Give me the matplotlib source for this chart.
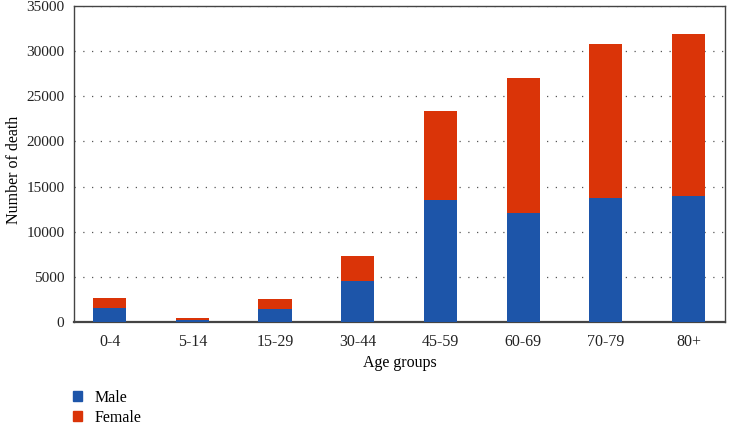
import numpy as np
import matplotlib.pyplot as plt
from matplotlib.patches import Patch

# Deaths by age group and sex
age_groups = ['0-4', '5-14', '15-29', '30-44', '45-59', '60-69', '70-79', '80+']
male = [1550, 200, 1400, 4500, 13550, 12100, 13700, 14000]
female = [1100, 250, 1200, 2780, 9850, 14900, 17100, 17900]

blue = '#1d55a9'
red = '#da3408'

plt.rcParams['font.family'] = ['Liberation Serif', 'DejaVu Serif']

fig = plt.figure(figsize=(7.3, 4.28), dpi=100)
ax = fig.add_axes([0.1014, 0.2477, 0.8916, 0.7383])

x = np.arange(len(age_groups))
ax.bar(x, male, width=0.4, color=blue, zorder=3)
ax.bar(x, female, width=0.4, bottom=male, color=red, zorder=3)

ax.set_xlim(-0.43, len(age_groups) - 1 + 0.44)
ax.set_ylim(0, 35000)
ax.set_yticks(np.arange(0, 35001, 5000))
ax.set_xticks(x)
ax.set_xticklabels(age_groups)
ax.tick_params(axis='both', length=0, labelsize=11, colors='#222222', pad=7)
ax.tick_params(axis='x', labelsize=11.5, pad=9)

ax.yaxis.grid(True, linestyle=(0, (1, 6)), color='#555555', linewidth=0.9, zorder=0)
for s in ax.spines.values():
    s.set_color('#444444')
    s.set_linewidth(1.0)
ax.spines['bottom'].set_linewidth(1.6)

ax.set_xlabel('Age groups', fontsize=11.5, labelpad=3)
ax.set_ylabel('Number of death', fontsize=11.5)
ax.yaxis.set_label_coords(-0.08, 0.48)

handles = [Patch(color=blue, label='Male'), Patch(color=red, label='Female')]
fig.legend(handles=handles, loc='lower left', bbox_to_anchor=(0.08, -0.028),
           frameon=False, fontsize=11.5, handlelength=0.6, handleheight=0.6,
           handletextpad=0.75, labelspacing=0.25)

fig.savefig('out.png', dpi=100)
